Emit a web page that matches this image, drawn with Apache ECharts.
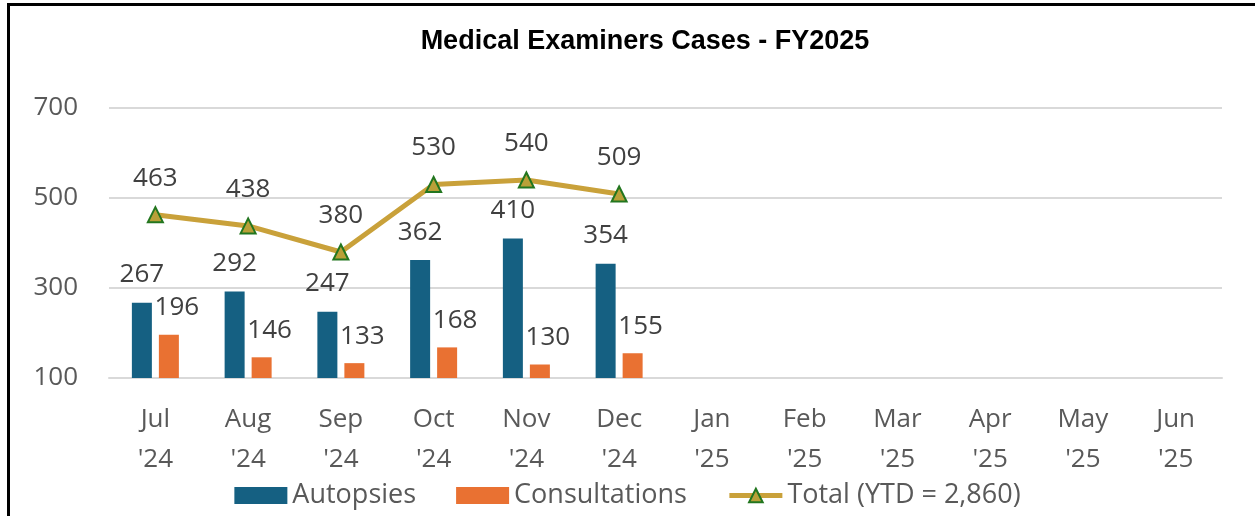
<!DOCTYPE html>
<html>
<head>
<meta charset="utf-8">
<script src="https://cdn.jsdelivr.net/npm/echarts@6/dist/echarts.min.js"></script>
<style>
  html, body { margin: 0; padding: 0; background: #fff; overflow: hidden; }
  #chart { position: absolute; left: 0; top: 0; width: 1255px; height: 516px; }
  #frame {
    position: absolute; left: 7px; top: 3px; width: 1300px; height: 600px;
    border-left: 3px solid #000; border-top: 3px solid #000; pointer-events: none;
  }
</style>
</head>
<body>
<div id="chart"></div>
<div id="frame"></div>
<script>
// categories (fiscal year months)
const months = ['Jul\n\'24', 'Aug\n\'24', 'Sep\n\'24', 'Oct\n\'24', 'Nov\n\'24', 'Dec\n\'24',
  'Jan\n\'25', 'Feb\n\'25', 'Mar\n\'25', 'Apr\n\'25', 'May\n\'25', 'Jun\n\'25']
// series values
const autopsies = [267, 292, 247, 362, 410, 354, null, null, null, null, null, null]
const consultations = [196, 146, 133, 168, 130, 155, null, null, null, null, null, null]
const total = [463, 438, 380, 530, 540, 509, null, null, null, null, null, null]
const totalName = 'Total (YTD = 2,860)'

const font = 'Open Sans'
const labelStyle = { show: true, position: 'top', color: '#404040', fontFamily: font, fontSize: 26 }

let myChart = echarts.init(document.getElementById('chart'))
myChart.setOption({
  animation: false,
  title: {
    text: 'Medical Examiners Cases - FY2025',
    left: 640,
    textAlign: 'center',
    top: 23,
    textStyle: { fontFamily: 'Liberation Sans', fontWeight: 'bold', fontSize: 27, color: '#000' }
  },
  grid: { left: 109, right: 33, top: 108, bottom: 138 },
  legend: {
    top: 477,
    left: 'center',
    itemWidth: 53,
    itemHeight: 17,
    itemGap: 40,
    textStyle: { fontFamily: font, fontSize: 27, color: '#595959' },
    data: [
      { name: 'Autopsies', icon: 'rect' },
      { name: 'Consultations', icon: 'rect' },
      { name: totalName, lineStyle: { width: 5 } }
    ]
  },
  xAxis: {
    type: 'category',
    data: months,
    axisLine: { lineStyle: { color: '#D9D9D9', width: 2 } },
    axisTick: { show: false },
    axisLabel: { fontFamily: font, fontSize: 26, color: '#595959', lineHeight: 40, margin: 22 }
  },
  yAxis: {
    type: 'value',
    min: 100,
    max: 700,
    interval: 200,
    axisLine: { show: false },
    axisTick: { show: false },
    splitLine: { lineStyle: { color: '#D9D9D9', width: 2 } },
    axisLabel: { fontFamily: font, fontSize: 26, color: '#595959', margin: 31 }
  },
  series: [
    {
      name: 'Autopsies',
      type: 'bar',
      data: autopsies,
      barWidth: 20,
      barGap: '35%',
      itemStyle: { color: '#156082' },
      label: Object.assign({}, labelStyle, { distance: 15 })
    },
    {
      name: 'Consultations',
      type: 'bar',
      data: consultations,
      barWidth: 20,
      itemStyle: { color: '#E97132' },
      label: Object.assign({}, labelStyle, { distance: 14, offset: [8, 0] })
    },
    {
      name: totalName,
      type: 'line',
      data: total,
      symbol: 'triangle',
      symbolSize: 15,
      lineStyle: { color: '#C9A13A', width: 5 },
      itemStyle: { color: '#B9A038', borderColor: '#22761F', borderWidth: 2 },
      label: Object.assign({}, labelStyle, { distance: 15 }),
      z: 5
    }
  ]
})
</script>
</body>
</html>
